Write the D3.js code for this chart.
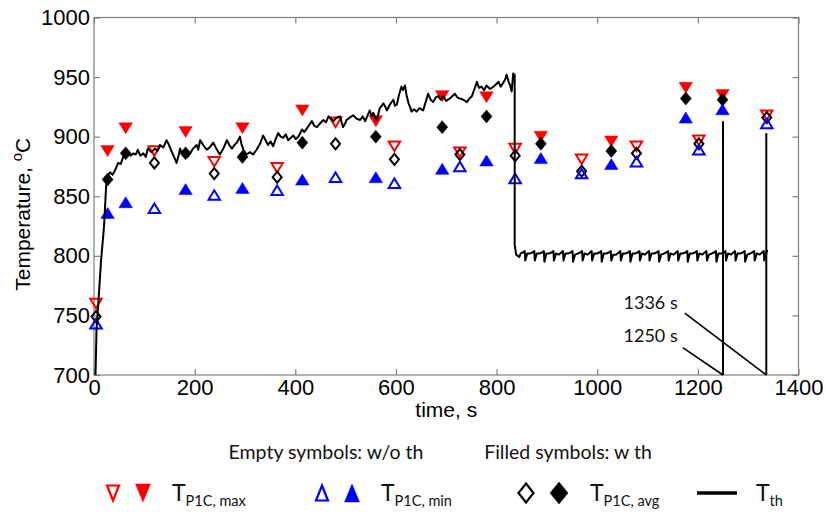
<!DOCTYPE html>
<html><head><meta charset="utf-8">
<script src="https://cdn.jsdelivr.net/npm/d3@7"></script>
<style>
body{margin:0;background:#fff;}
svg{display:block;}
</style></head>
<body><svg id="c" width="826" height="512"></svg>
<script>
// ---- data ----
const xTicks = [0, 200, 400, 600, 800, 1000, 1200, 1400];
const yTicks = [700, 750, 800, 850, 900, 950, 1000];

// with thermal treatment (filled symbols)
const tWith   = [27, 63, 182, 295, 414, 560, 692, 780, 888, 1028, 1176, 1249];
const maxWith = [888, 907, 904, 907, 922, 913, 934, 933, 900, 896, 941, 935];
const minWith = [836, 845, 856, 857, 864, 866, 873, 880, 882, 877, 916, 923];
const avgWith = [864, 886, 886, 883, 895, 900, 908, 917, 894, 888, 932, 931];

// without thermal treatment (empty symbols)
const tWithout   = [4, 120, 239, 364, 480, 597, 727, 837, 969, 1078, 1202, 1337];
const maxWithout = [760, 888, 879, 874, 912, 892, 887, 890, 881, 892, 897, 918];
const minWithout = [743, 840, 851, 855, 866, 861, 875, 865, 869, 879, 889, 911];
const avgWithout = [749, 878, 869, 866, 894, 881, 885, 884, 871, 886, 894, 916];

// T_th trace: heating ramp + hold
const thRamp = [[3,700],[5,738],[9,763],[14,796],[20,825],[25,866],[32,870],[37,868],[42,872],[48,878],[53,877],[58,883],
 [63,885],[68,887],[73,884],[78,886],[83,885],[87,889],[92,884],[98,886],[103,883],[107,890],[114,887],[121,890],[126,888],[131,893],[138,891],[144,897],[148,894],[153,889],[158,884],[164,878],
 [168,884],[171,890],[176,885],[181,887],[186,883],[191,886],[197,890],[204,893],[207,889],[211,897],[217,893],[224,889],[230,891],[237,895],[243,890],[250,885],[257,890],[264,897],[269,893],[274,890],
 [279,893],[284,895],[290,900],[293,894],[297,889],[303,885],[310,887],[316,885],[323,889],[330,894],[336,901],[341,897],[346,893],[351,896],[356,892],[361,898],[366,903],[371,900],[376,899],
 [381,902],[386,897],[391,899],[396,901],[401,898],[406,900],[410,903],[413,906],[418,904],[423,907],[428,910],[433,913],[438,909],[443,908],[449,911],[456,914],[461,912],[466,917],[471,915],[476,913],
 [482,916],[489,917],[492,912],[495,908],[499,911],[502,914],[508,916],[515,918],[522,915],[529,914],[534,917],[539,913],[544,918],[548,922],[552,917],[555,920],[559,916],[562,914],[565,919],[568,924],
 [572,926],[575,928],[579,925],[582,922],[588,927],[595,931],[598,926],[602,927],[606,935],[611,942],[614,939],[618,943],[621,935],[625,928],[628,925],[631,921],[636,923],[641,921],[647,924],[654,922],[659,929],
 [664,936],[669,931],[674,929],[679,933],[684,934],[689,931],[694,934],[700,930],[707,932],[712,934],[717,936],[722,933],[727,932],[734,931],[741,929],[746,932],[751,934],[756,940],[761,946],
 [765,941],[770,942],[775,939],[780,943],[787,940],[794,942],[799,944],[804,946],[808,942],[813,945],[817,948],[820,952],[824,946],[827,943],[830,938],[833,953],[836,952],
 [836,809],[839,801]];
const thHold = [[845,799],[848,802],[853,803],[856,804],[857,796],[861,802],
 [867,802],[872,803],[875,804],[876,796],[880,802],[886,802],[891,803],[894,804],[895,795],[899,802],
 [905,802],[910,803],[913,804],[914,796],[918,802],[924,801],[929,803],[932,804],[933,796],[937,802],
 [943,802],[948,803],[951,804],[952,795],[956,801],[962,802],[967,803],[970,804],[971,796],[975,802],
 [981,801],[986,803],[989,804],[990,796],[994,802],[1000,802],[1005,803],[1008,804],[1009,795],[1013,802],
 [1019,802],[1024,803],[1027,804],[1028,796],[1032,801],[1038,801],[1043,803],[1046,804],[1047,796],[1051,802],
 [1057,802],[1062,803],[1065,804],[1066,795],[1070,802],[1076,802],[1081,803],[1084,804],[1085,796],[1089,802],
 [1095,801],[1100,803],[1103,804],[1104,796],[1108,802],[1114,802],[1119,803],[1122,804],[1123,795],[1127,801],
 [1133,802],[1138,803],[1141,804],[1142,796],[1146,802],[1152,801],[1157,803],[1160,804],[1161,796],[1165,802],
 [1171,802],[1176,803],[1179,804],[1180,795],[1184,802],[1190,802],[1195,803],[1198,804],[1199,796],[1203,802],
 [1209,801],[1214,803],[1217,804],[1218,796],[1222,801],[1228,802],[1233,803],[1236,804],[1237,795],[1241,802],
 [1247,802],[1252,803],[1255,804],[1256,796],[1260,802],[1266,801],[1271,803],[1274,804],[1275,796],[1279,802],
 [1285,802],[1290,803],[1293,804],[1294,795],[1298,801],[1304,802],[1309,803],[1312,804],[1313,796],[1317,802],
 [1323,801],[1328,803],[1331,804],[1332,796],[1336,802],[1338,805]];

// switch-off markers
const cutTimes = [1250, 1336];
const cutTops  = [913, 903];
const cutLabels = ["1250 s", "1336 s"];

// ---- chart ----
const svg = d3.select("#c");
const x = d3.scaleLinear().domain([0, 1400]).range([94, 798.5]);
const y = d3.scaleLinear().domain([700, 1000]).range([375, 17.5]);
const frameCol = "#7f7f7f";
const tickFont = "Liberation Sans, Arial, sans-serif";
const humFont = "Lato, 'Open Sans', sans-serif";

// frame
svg.append("rect").attr("x", x(0)).attr("y", y(1000))
  .attr("width", x(1400) - x(0)).attr("height", y(700) - y(1000))
  .attr("fill", "none").attr("stroke", frameCol).attr("stroke-width", 1.2);

function styleAxis(g) {
  g.select(".domain").remove();
  g.selectAll(".tick line").attr("stroke", frameCol).attr("stroke-width", 1.2);
  g.selectAll("text").attr("font-family", tickFont).attr("font-size", 22).attr("fill", "#000");
}
svg.append("g").attr("transform", `translate(0,${y(700)})`)
  .call(d3.axisBottom(x).tickValues(xTicks).tickSize(-6).tickPadding(4).tickFormat(d3.format("d")))
  .call(styleAxis);
svg.append("g").attr("transform", `translate(0,${y(1000)})`)
  .call(d3.axisTop(x).tickValues(xTicks).tickSize(-6).tickFormat(""))
  .call(styleAxis);
svg.append("g").attr("transform", `translate(${x(0)},0)`)
  .call(d3.axisLeft(y).tickValues(yTicks).tickSize(-6).tickPadding(4).tickFormat(d3.format("d")))
  .call(styleAxis);
svg.append("g").attr("transform", `translate(${x(1400)},0)`)
  .call(d3.axisRight(y).tickValues(yTicks).tickSize(-6).tickFormat(""))
  .call(styleAxis);

// axis titles
svg.append("text").attr("x", (x(0) + x(1400)) / 2).attr("y", 417)
  .attr("text-anchor", "middle").attr("font-family", tickFont).attr("font-size", 21)
  .attr("fill", "#000").text("time, s");
const yt = svg.append("text").attr("transform", `translate(30,${(y(700)+y(1000))/2 + 18}) rotate(-90)`)
  .attr("text-anchor", "middle").attr("font-family", tickFont).attr("font-size", 21).attr("fill", "#000");
yt.append("tspan").text("Temperature, ");
yt.append("tspan").attr("dy", -8).attr("font-size", 15).text("o");
yt.append("tspan").attr("dy", 8).text("C");

// marker shapes
function triPath(w, h, down) {
  const s = down ? -1 : 1;
  return `M${-w/2},${s*h/2}L${w/2},${s*h/2}L0,${-s*h/2}Z`;
}
function diaPath(w, h) {
  return `M0,${-h/2}L${w/2},0L0,${h/2}L${-w/2},0Z`;
}
const markers = svg.append("g");
function drawSeries(ts, vs, path, color, filled) {
  markers.selectAll(null).data(ts.map((t, i) => [t, vs[i]])).enter().append("path")
    .attr("transform", d => `translate(${x(d[0])},${y(d[1])})`)
    .attr("d", path)
    .attr("fill", filled ? color : "none")
    .attr("stroke", color)
    .attr("stroke-width", filled ? 0.5 : 2);
}
drawSeries(tWithout, maxWithout, triPath(11.5, 9.5, true), "#ff0000", false);
drawSeries(tWithout, avgWithout, diaPath(9, 11), "#000000", false);
drawSeries(tWithout, minWithout, triPath(11.5, 9.5, false), "#0000ff", false);
drawSeries(tWith, maxWith, triPath(13.5, 11, true), "#ff0000", true);
drawSeries(tWith, avgWith, diaPath(11, 13), "#000000", true);
drawSeries(tWith, minWith, triPath(13.5, 11, false), "#0000ff", true);

// T_th line
const line = d3.line().x(d => x(d[0])).y(d => y(d[1]));
svg.append("path").datum(thRamp.concat(thHold)).attr("d", line)
  .attr("fill", "none").attr("stroke", "#000").attr("stroke-width", 2).attr("stroke-linejoin", "round");

// switch-off lines + annotation
cutTimes.forEach((t, i) => {
  svg.append("line").attr("x1", x(t)).attr("x2", x(t)).attr("y1", y(700)).attr("y2", y(cutTops[i]))
    .attr("stroke", "#000").attr("stroke-width", 2);
});
const labelT = [1160, 1160];
const labelV = [728, 755];
const leadStart = [[1170, 723], [1174, 752]];
cutTimes.forEach((t, i) => {
  svg.append("text").attr("x", x(labelT[i])).attr("y", y(labelV[i])).attr("text-anchor", "end")
    .attr("font-family", humFont).attr("font-size", 18).attr("fill", "#111").text(cutLabels[i]);
  svg.append("line").attr("x1", x(leadStart[i][0])).attr("y1", y(leadStart[i][1]))
    .attr("x2", x(t)).attr("y2", y(700)).attr("stroke", "#000").attr("stroke-width", 1.6);
});

// legend
svg.append("text").attr("x", 326).attr("y", 459).attr("text-anchor", "middle")
  .attr("font-family", humFont).attr("font-size", 19.5).attr("fill", "#111").text("Empty symbols: w/o th");
svg.append("text").attr("x", 568).attr("y", 459).attr("text-anchor", "middle")
  .attr("font-family", humFont).attr("font-size", 19.5).attr("fill", "#111").text("Filled symbols: w th");

const ly = 493;
const leg = svg.append("g");
function legSym(cx, path, color, filled) {
  leg.append("path").attr("transform", `translate(${cx},${ly})`).attr("d", path)
    .attr("fill", filled ? color : "none").attr("stroke", color).attr("stroke-width", filled ? 0.5 : 2.2);
}
function legText(lx, sub) {
  const t = leg.append("text").attr("x", lx).attr("y", ly + 8).attr("font-family", humFont)
    .attr("font-size", 23).attr("fill", "#111");
  t.append("tspan").text("T");
  t.append("tspan").attr("dy", 5).attr("font-size", 14.5).text(sub);
}
legSym(113, triPath(12, 15, true), "#ff0000", false);
legSym(143, triPath(15, 18, true), "#ff0000", true);
legText(172, "P1C, max");
legSym(322, triPath(12, 15, false), "#0000ff", false);
legSym(352, triPath(15, 18, false), "#0000ff", true);
legText(381, "P1C, min");
legSym(526, diaPath(15, 19), "#000", false);
legSym(559, diaPath(18, 22), "#000", true);
legText(590, "P1C, avg");
leg.append("line").attr("x1", 697).attr("x2", 737).attr("y1", ly).attr("y2", ly)
  .attr("stroke", "#000").attr("stroke-width", 3.5);
legText(756, "th");
</script></body></html>
